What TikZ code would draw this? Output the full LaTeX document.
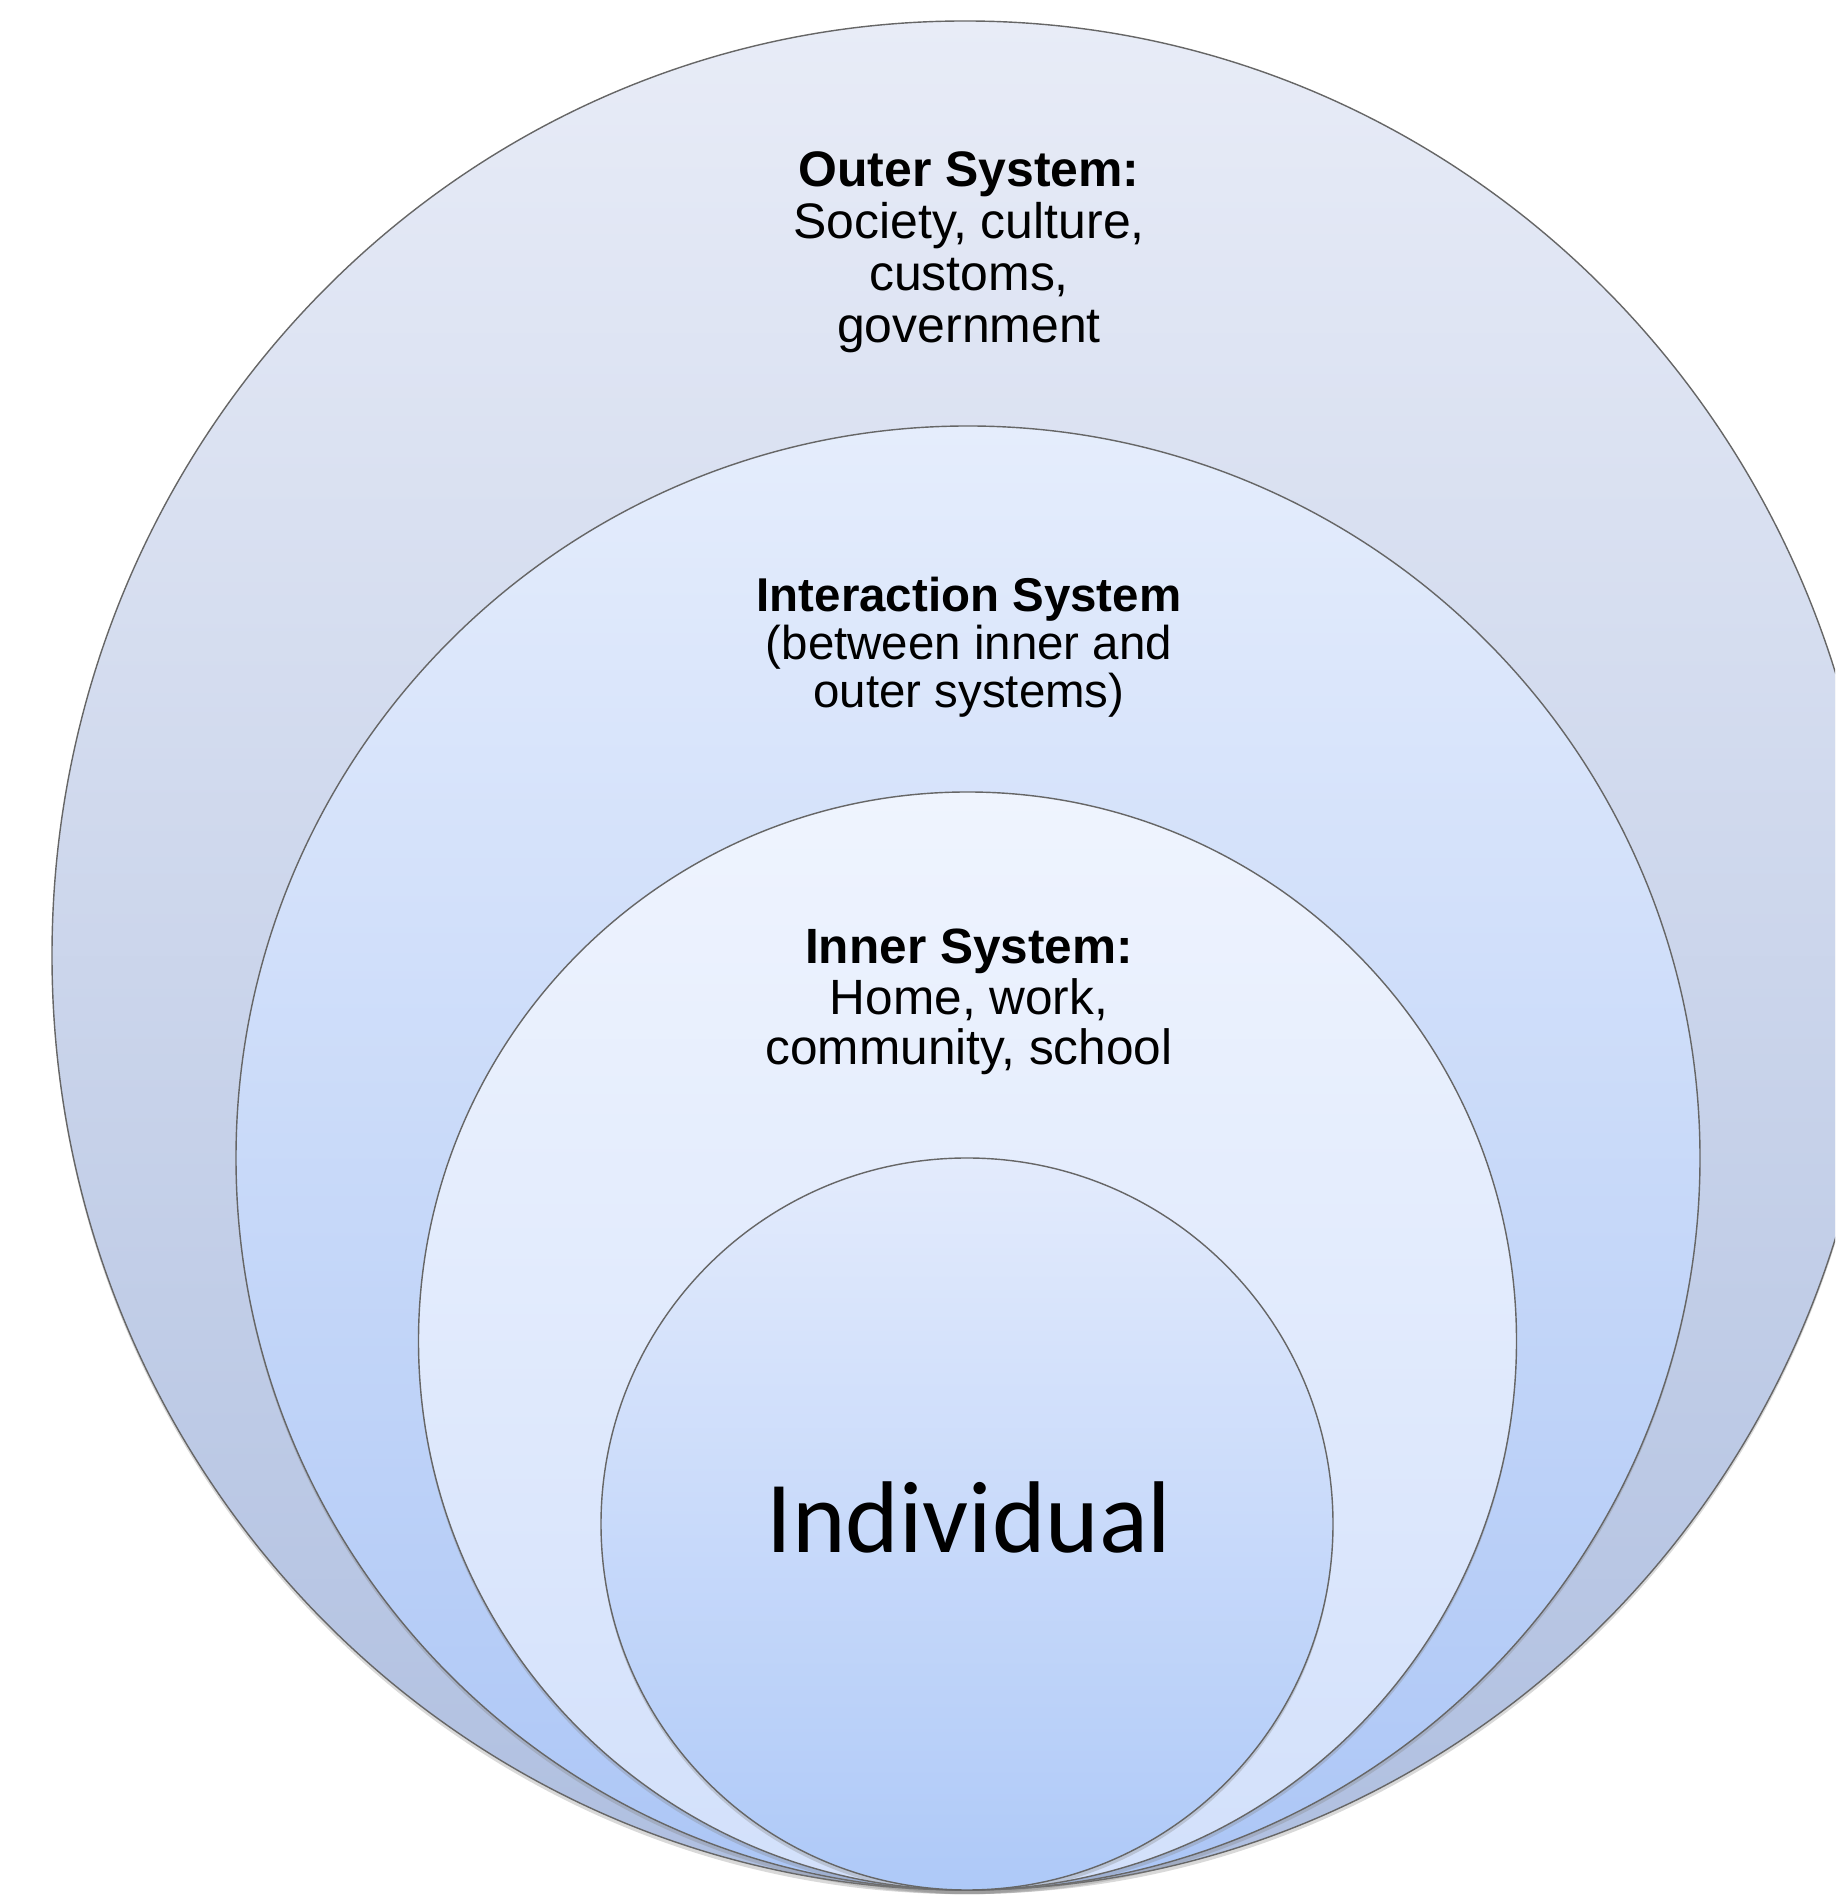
\documentclass[tikz,border=0pt]{standalone}
\usepackage{fontspec}
\setmainfont{Liberation Sans}
\newfontfamily\calibri{Carlito}
\usepackage{tikz}
\usetikzlibrary{shapes.geometric,shadows}

\definecolor{outertop}{HTML}{E8ECF7}
\definecolor{outerbot}{HTML}{AFBFE0}
\definecolor{midtop}{HTML}{E5EDFC}
\definecolor{midbot}{HTML}{ACC6F6}
\definecolor{innertop}{HTML}{EFF4FE}
\definecolor{innerbot}{HTML}{D2E0FB}
\definecolor{selftop}{HTML}{E3EBFC}
\definecolor{selfbot}{HTML}{AEC9F8}

\begin{document}
\begin{tikzpicture}[
        ring/.style={draw=black!60, line width=0.4pt, inner sep=0pt,
            drop shadow={shadow xshift=0pt, shadow yshift=-1.2pt, opacity=0.3}},
        systext/.style={align=center, anchor=base, inner sep=0pt, text=black}
    ]
                \useasboundingbox (0,0) rectangle (18.35,18.96);
                \clip (0,0) rectangle (18.35,18.96);
                \node [ring, ellipse, minimum width=18.26cm, minimum height=18.69cm, top color=outertop, bottom color=outerbot] (outer) at (9.65,9.405) {};
                \node [ring, circle, minimum size=14.64cm, top color=midtop, bottom color=midbot] (interaction) at (9.68,7.38) {};
                \node [ring, circle, minimum size=10.98cm, top color=innertop, bottom color=innerbot] (inner) at (9.675,5.55) {};
                \node [ring, circle, minimum size=7.32cm, top color=selftop, bottom color=selfbot] (individual) at (9.67,3.72) {};
                \node [systext, font=\fontsize{14.2}{14.8}\selectfont] (outerlabel) at (9.69,15.53) {\textbf{Outer System:}\\Society, culture,\\customs,\\government};
                \node [systext, font=\fontsize{13.5}{13.7}\selectfont] (interactionlabel) at (9.69,11.88) {\textbf{Interaction System}\\(between inner and\\outer systems)};
                \node [systext, font=\fontsize{14.1}{14.5}\selectfont] (innerlabel) at (9.69,8.31) {\textbf{Inner System:}\\Home, work,\\community, school};
                \node [systext, font=\calibri\fontsize{29}{31}\selectfont] (individuallabel) at (9.69,3.43) {Individual};
            \end{tikzpicture}
\end{document}
